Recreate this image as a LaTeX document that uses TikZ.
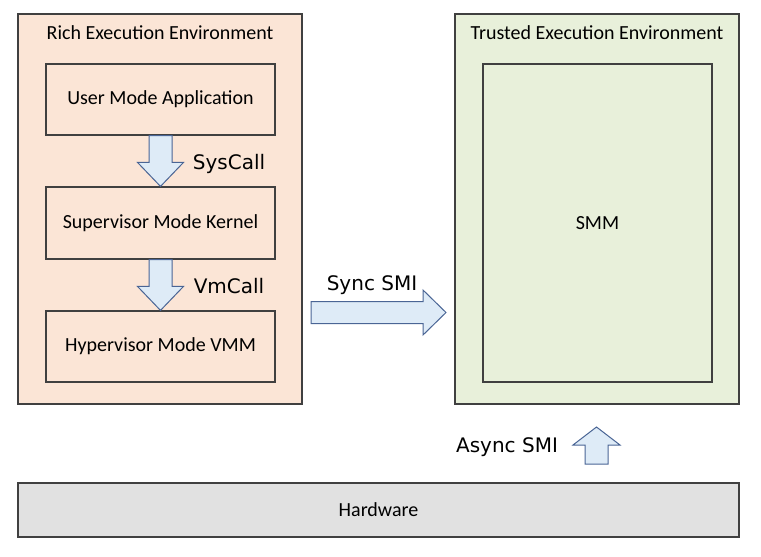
\documentclass[tikz,border=0pt]{standalone}
\usepackage{fontspec}
\setmainfont{Carlito}
\newfontfamily\labelfont{DejaVu Sans}
\usetikzlibrary{calc}
\tikzset{>=latex}
\definecolor{reefill}{HTML}{FBE5D6}
\definecolor{teefill}{HTML}{E8F0DA}
\definecolor{hwfill}{HTML}{E1E1E1}
\definecolor{arrowfill}{HTML}{DEEBF7}
\definecolor{arrowline}{HTML}{4A6595}
\definecolor{boxline}{HTML}{404040}
\tikzset{
    envbox/.style={draw=boxline, line width=1.2pt},
    modebox/.style={draw=boxline, line width=1.2pt, font=\fontsize{20}{24}\selectfont},
    callabel/.style={anchor=base, font=\labelfont\fontsize{20}{24}\selectfont},
    fatarrow/.style={draw=arrowline, fill=arrowfill, line width=1pt, line join=miter}
}
% block arrow from #1 (tail) to #2 (tip): half shaft #3, half head #4, head length #5
\newcommand\fatarrow[5]{%
    \path ($(#2)!#5!(#1)$) coordinate (neck);
    \draw[fatarrow] ($(#1)!#3!90:(#2)$) -- ($(neck)!#3!-90:(#1)$)
        -- ($(neck)!#4!-90:(#1)$) -- (#2) -- ($(neck)!#4!90:(#1)$)
        -- ($(neck)!#3!90:(#1)$) -- ($(#1)!#3!-90:(#2)$) -- cycle;
}

\begin{document}
\begin{tikzpicture}[x=1pt, y=-1pt]
    \useasboundingbox (0,0) rectangle (761,557);

    % rich execution environment
    \draw[envbox, fill=reefill] (18,14) rectangle (302,404);
    \node[font=\fontsize{20}{24}\selectfont] (reetitle) at (160,33) {Rich Execution Environment};
    \node[modebox, minimum width=229pt, minimum height=71pt] (uma) at (160.5,99.5) {User Mode Application};
    \node[modebox, minimum width=229pt, minimum height=72pt] (smk) at (160.5,223) {Supervisor Mode Kernel};
    \node[modebox, minimum width=229pt, minimum height=71pt] (hmv) at (160.5,346.5) {Hypervisor Mode VMM};

    % trusted execution environment
    \draw[envbox, fill=teefill] (455,14) rectangle (739,404);
    \node[font=\fontsize{20}{24}\selectfont] (teetitle) at (597,33) {Trusted Execution Environment};
    \node[modebox, minimum width=229pt, minimum height=318pt] (smm) at (597.5,223) {SMM};

    % hardware
    \node[modebox, fill=hwfill, minimum width=721pt, minimum height=54pt] (hw) at (378.5,510) {Hardware};

    % calls
    \fatarrow{uma.south}{smk.north}{11.5pt}{23pt}{24pt}
    \node[callabel] (syscall) at (229,169) {SysCall};
    \fatarrow{smk.south}{hmv.north}{11.5pt}{23pt}{24pt}
    \node[callabel] (vmcall) at (229,293) {VmCall};

    \coordinate (synctail) at (311,312.5);
    \coordinate (synctip) at (446,312.5);
    \fatarrow{synctail}{synctip}{11pt}{22.5pt}{23pt}
    \node[callabel] (sync) at (372,290) {Sync SMI};

    \coordinate (asynctail) at (596.5,464);
    \coordinate (asynctip) at (596.5,427);
    \fatarrow{asynctail}{asynctip}{11.5pt}{23.5pt}{18pt}
    \node[callabel] (async) at (507,452) {Async SMI};
\end{tikzpicture}
\end{document}
